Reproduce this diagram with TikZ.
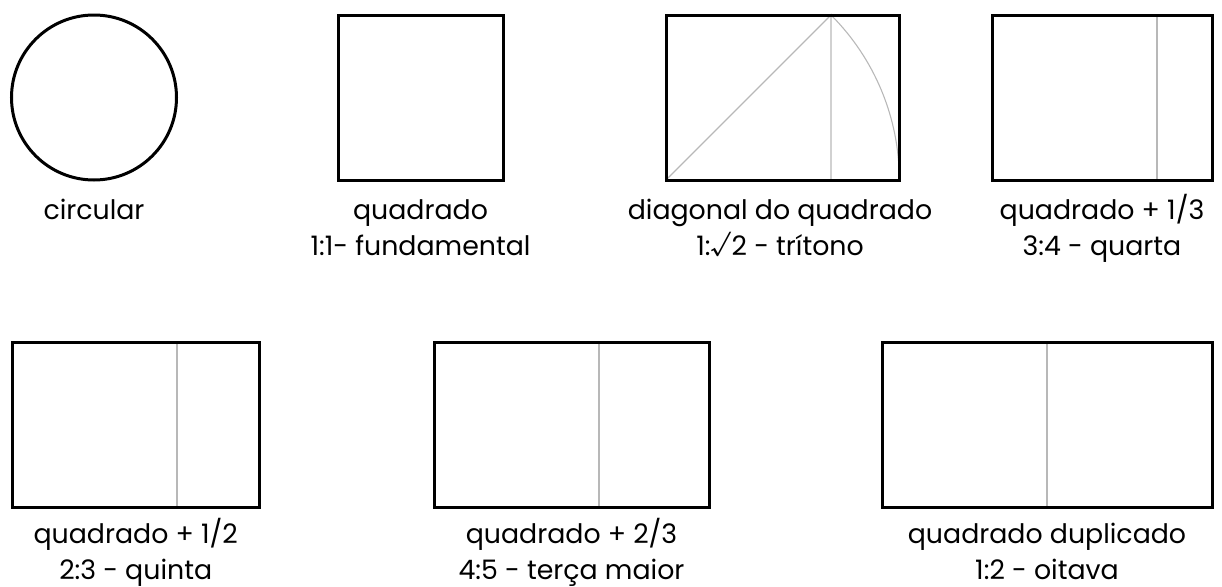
\documentclass[tikz,border=0pt]{standalone}
\usepackage{fontspec}
\setmainfont{Poppins}

\begin{document}
\begin{tikzpicture}[x=0.5pt,y=0.5pt,line join=miter,
    moldura/.style={line width=1.5pt},
    guia/.style={line width=0.55pt,draw=black!28},
    legenda/.style={anchor=base,inner sep=0pt,
      font=\fontsize{13.4}{18}\selectfont},
    linha2/.style={legenda,yshift=-18pt}]
    \useasboundingbox (0,0) rectangle (1222,586);
    % linha de cima
    \draw[moldura] (94,488.5) circle[radius=82.5];
    \node[legenda] (circ) at (94,367) {circular};

    \draw[moldura] (338,406) rectangle (503,571);
    \node[legenda] (quad) at (420.5,367) {quadrado};
    \node[linha2] (quad2) at (quad.base) {1:1- fundamental};

    \draw[guia] (666,406)--(831,571)--(831,406);
    \draw[guia] (831,571) arc[start angle=45,end angle=0,radius=233.3];
    \draw[moldura] (666,406) rectangle (899.3,571);
    \node[legenda] (diag) at (780,367) {diagonal do quadrado};
    \node[linha2] (diag2) at (diag.base) {1:√2 - trítono};

    \draw[guia] (1157,406)--(1157,571);
    \draw[moldura] (992,406) rectangle (1212,571);
    \node[legenda] (quarta) at (1102,367) {quadrado + 1/3};
    \node[linha2] (quarta2) at (quarta.base) {3:4 - quarta};

    % linha de baixo
    \draw[guia] (177,79)--(177,244);
    \draw[moldura] (12,79) rectangle (259.5,244);
    \node[legenda] (quinta) at (135.7,43) {quadrado + 1/2};
    \node[linha2] (quinta2) at (quinta.base) {2:3 - quinta};

    \draw[guia] (599,79)--(599,244);
    \draw[moldura] (434,79) rectangle (709,244);
    \node[legenda] (terca) at (571.5,43) {quadrado + 2/3};
    \node[linha2] (terca2) at (terca.base) {4:5 - terça maior};

    \draw[guia] (1047,79)--(1047,244);
    \draw[moldura] (882,79) rectangle (1212,244);
    \node[legenda] (oitava) at (1047,43) {quadrado duplicado};
    \node[linha2] (oitava2) at (oitava.base) {1:2 - oitava};
\end{tikzpicture}
\end{document}
